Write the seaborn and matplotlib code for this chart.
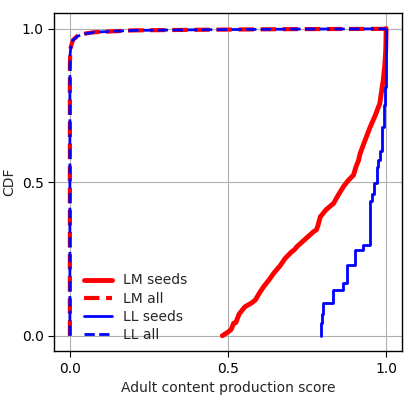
"""CDF of adult content production score for seeds and all accounts."""
import matplotlib

matplotlib.use("Agg")
import matplotlib.pyplot as plt
import seaborn as sns

#####################################
# Data
#####################################

# LM seeds: CDF knots (score, cumulative fraction)
lm_seeds_x = [0.482, 0.50, 0.51, 0.518, 0.525, 0.535, 0.55, 0.555, 0.575, 0.587,
              0.60, 0.613, 0.63, 0.645, 0.665, 0.681, 0.70, 0.71, 0.718, 0.745,
              0.771, 0.78, 0.785, 0.792, 0.81, 0.834, 0.85, 0.865, 0.88, 0.897,
              0.905, 0.913, 0.918, 0.935, 0.95, 0.965, 0.976, 0.98, 0.985, 0.991,
              0.996, 0.999, 1.0, 1.0]
lm_seeds_y = [0.0, 0.012, 0.02, 0.041, 0.043, 0.07, 0.09, 0.095, 0.107, 0.117,
              0.14, 0.16, 0.182, 0.204, 0.228, 0.252, 0.272, 0.28, 0.29, 0.315,
              0.339, 0.345, 0.36, 0.387, 0.41, 0.431, 0.46, 0.485, 0.505, 0.523,
              0.55, 0.571, 0.593, 0.64, 0.68, 0.715, 0.745, 0.755, 0.79, 0.831,
              0.88, 0.93, 0.98, 1.0]

# LL seeds: step CDF knots
ll_seeds_x = [0.794, 0.794, 0.797, 0.80, 0.832, 0.863, 0.876, 0.902, 0.928,
              0.95, 0.955, 0.961, 0.97, 0.976, 0.981, 0.986, 0.992, 0.997, 1.0, 1.0]
ll_seeds_y = [0.0, 0.041, 0.07, 0.106, 0.149, 0.171, 0.23, 0.279, 0.295,
              0.44, 0.463, 0.496, 0.55, 0.571, 0.6, 0.68, 0.75, 0.81, 0.98, 1.0]

# all accounts: CDF knots
lm_all_x = [0.0, 0.0, 0.001, 0.003, 0.01, 0.024, 0.05, 0.077, 0.2, 0.41, 0.7, 0.999, 1.0]
lm_all_y = [0.0, 0.88, 0.925, 0.94, 0.963, 0.976, 0.984, 0.988, 0.994, 0.996, 0.998, 0.999, 1.0]
ll_all_x = [0.0, 0.0, 0.001, 0.003, 0.01, 0.024, 0.05, 0.077, 0.2, 0.41, 0.7, 0.999, 1.0]
ll_all_y = [0.0, 0.87, 0.92, 0.938, 0.962, 0.975, 0.983, 0.988, 0.994, 0.996, 0.998, 0.999, 1.0]

ticks = [0.0, 0.5, 1.0]

#####################################
# Plot
#####################################

sns.set_theme(style="ticks", rc={
    "axes.edgecolor": "black",
    "xtick.color": "black",
    "ytick.color": "black",
    "grid.color": "#b0b0b0",
    "grid.linewidth": 0.8,
})
plt.rcParams["font.family"] = ["DejaVu Sans"]

fig = plt.figure(figsize=(4.16, 3.99), dpi=100)
ax = fig.add_axes([0.13, 0.12, 0.836, 0.847])

common = dict(ax=ax, sort=False, estimator=None)
sns.lineplot(x=lm_seeds_x, y=lm_seeds_y, color="red", lw=3.5,
             label="LM seeds", **common)
sns.lineplot(x=lm_all_x, y=lm_all_y, color="red", lw=3,
             linestyle="--", label="LM all", **common)
sns.lineplot(x=ll_seeds_x, y=ll_seeds_y, color="blue", lw=2,
             drawstyle="steps-post", label="LL seeds", **common)
sns.lineplot(x=ll_all_x, y=ll_all_y, color="blue", lw=2,
             linestyle="--", label="LL all", **common)

ax.set_xlim(-0.05, 1.05)
ax.set_ylim(-0.05, 1.05)
ax.set_xticks(ticks)
ax.set_yticks(ticks)
ax.tick_params(labelsize=10, length=4, width=0.8)
ax.grid(True)
ax.set_xlabel("Adult content production score", fontsize=10)
ax.set_ylabel("CDF", fontsize=10)
for s in ax.spines.values():
    s.set_linewidth(1.0)
ax.legend(loc="lower left", frameon=False, fontsize=10, labelspacing=0.3,
          handlelength=2.0, bbox_to_anchor=(0.05, -0.01))

fig.savefig("out.png", dpi=100)
